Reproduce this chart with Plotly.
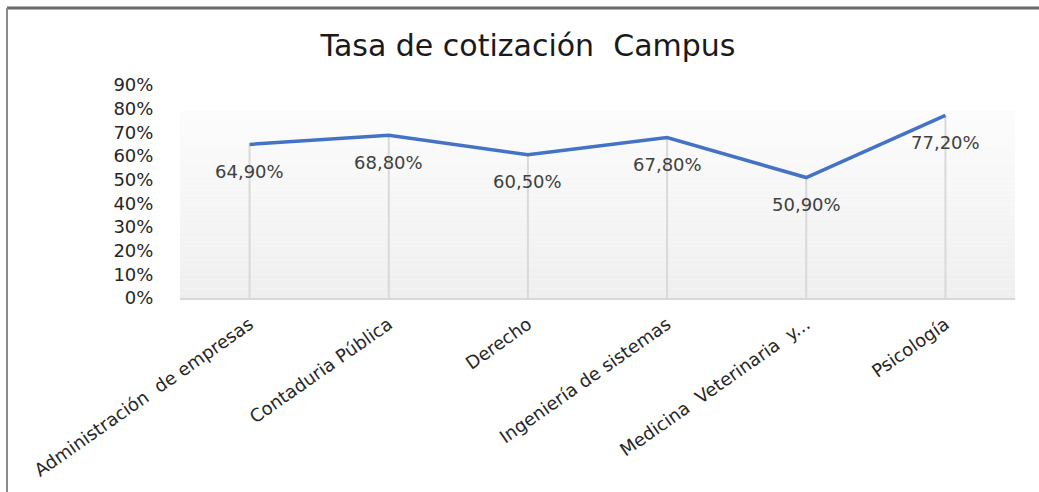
import plotly.graph_objects as go

categories = ["Administración  de empresas", "Contaduria Pública", "Derecho",
              "Ingeniería de sistemas", "Medicina  Veterinaria  y...", "Psicología"]
values = [0.649, 0.688, 0.605, 0.678, 0.509, 0.772]
y_ticks = [0.0, 0.1, 0.2, 0.3, 0.4, 0.5, 0.6, 0.7, 0.8, 0.9]
title_text = "Tasa de cotización  Campus"

W, H = 1039, 492
ML, MR, MT, MB = 180, 24, 85, 194
pw, ph = W - ML - MR, H - MT - MB

def px_x(p):
    return (p - ML) / pw

def px_y(p):
    return (H - MB - p) / ph

fig = go.Figure()

# drop lines from each point to the axis
dx, dy = [], []
for c, v in zip(categories, values):
    dx += [c, c, None]
    dy += [0, v, None]
fig.add_trace(go.Scatter(x=dx, y=dy, mode="lines",
                         line=dict(color="#d9d9d9", width=2),
                         hoverinfo="skip", showlegend=False))

fig.add_trace(go.Scatter(x=categories, y=values, mode="lines",
                         line=dict(color="#4472C4", width=3.5),
                         showlegend=False))

annotations = []
for c, v in zip(categories, values):
    annotations.append(dict(x=c, y=v, xref="x", yref="y", yshift=-27,
                            text=f"{v*100:.2f}%".replace(".", ","),
                            showarrow=False,
                            font=dict(family="DejaVu Sans", size=18, color="#404040")))

shapes = []
# gradient plot background
n = 40
top = 0.79
for i in range(n):
    t = i / (n - 1)
    g = int(round(252 - (252 - 239) * (1 - t)))
    shapes.append(dict(type="rect", xref="paper", yref="y", layer="below",
                       x0=0, x1=1, y0=top * i / n, y1=top * (i + 1) / n,
                       fillcolor=f"rgb({g},{g},{g})", line=dict(width=0)))
# chart border (top and left)
shapes.append(dict(type="line", xref="paper", yref="paper",
                   x0=px_x(7), x1=px_x(W + 5), y0=px_y(8), y1=px_y(8),
                   line=dict(color="#6a6a6a", width=3)))
shapes.append(dict(type="line", xref="paper", yref="paper",
                   x0=px_x(7), x1=px_x(7), y0=px_y(8), y1=px_y(H + 5),
                   line=dict(color="#8a8a8a", width=2)))

fig.update_layout(
    width=W, height=H,
    margin=dict(l=ML, r=MR, t=MT, b=MB),
    paper_bgcolor="white", plot_bgcolor="rgba(0,0,0,0)",
    title=dict(text=title_text, x=528 / W, xanchor="center",
               y=1 - 45 / H, yanchor="middle",
               font=dict(family="DejaVu Sans", size=30, color="#1a1a1a")),
    shapes=shapes, annotations=annotations,
    xaxis=dict(type="category", range=[-0.5, len(categories) - 0.5],
               automargin=False,
               showgrid=False, zeroline=False,
               showline=True, linecolor="#d9d9d9", linewidth=2,
               ticks="outside", ticklen=7, tickcolor="rgba(0,0,0,0)",
               tickangle=-35,
               tickfont=dict(family="DejaVu Sans", size=18, color="#262626")),
    yaxis=dict(range=[0, 0.9], tickvals=y_ticks, tickformat=".0%",
               automargin=False,
               showgrid=False, zeroline=False, showline=False,
               ticks="outside", ticklen=22, tickcolor="rgba(0,0,0,0)",
               tickfont=dict(family="DejaVu Sans", size=18, color="#262626")),
)

fig.write_html("out.html", config={"displayModeBar": False},
               post_script="document.body.style.margin='0';")
